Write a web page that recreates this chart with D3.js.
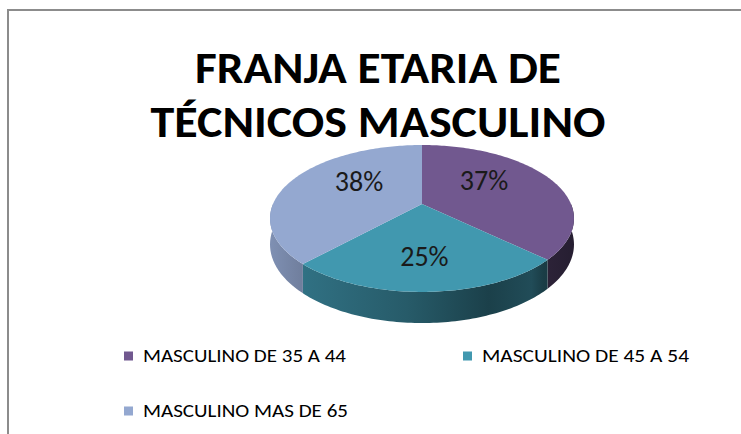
<!DOCTYPE html>
<html>
<head>
<meta charset="utf-8">
<script src="https://cdn.jsdelivr.net/npm/d3@7"></script>
<style>
	body { margin: 0; background: #fff; }
	svg { display: block; }
	text { font-family: Carlito, Lato, "Liberation Sans", sans-serif; }
</style>
</head>
<body>
<svg id="canvas" width="741" height="434"></svg>
<script>
// chart data
const categories = ["MASCULINO DE 35 A 44", "MASCULINO DE 45 A 54", "MASCULINO MAS DE 65"];
const values = [37, 25, 38];
const labels = ["37%", "25%", "38%"];
const colors = ["#71588f", "#4198af", "#94a8d0"];
const titleLines = ["FRANJA ETARIA DE", "TÉCNICOS MASCULINO"];

const svg = d3.select("#canvas");

// frame
svg.append("rect")
	.attr("x", 8).attr("y", 10)
	.attr("width", 800).attr("height", 500)
	.attr("fill", "#fff")
	.attr("stroke", "#8c8c8c")
	.attr("stroke-width", 2);

// title
svg.append("g")
	.selectAll("text")
	.data(titleLines)
	.join("text")
	.attr("x", 378)
	.attr("y", (d, i) => 83 + i * 54)
	.attr("text-anchor", "middle")
	.attr("font-size", 45)
	.attr("font-weight", "bold")
	.attr("fill", "#000")
	.attr("textLength", (d, i) => [366, 455][i])
	.attr("lengthAdjust", "spacingAndGlyphs")
	.text(d => d);

// perspective projection of the pie disc
const cx = 422, cy = 204, R = 149, RY = 70.6, P = 0.197, H = 25;
function proj(a, f, dz) {
	const u = Math.sin(a), v = -Math.cos(a);
	const s = 1 / (1 - P * v * f);
	return [cx + R * u * f * s, cy + RY * v * f * s + dz * s];
}

const color = d3.scaleOrdinal().domain(categories).range(colors);
const pie = d3.pie().sort(null).value(d => d.value);
const arcs = pie(categories.map((c, i) => ({ name: c, value: values[i], label: labels[i] })));
const line = d3.line();

function samples(a0, a1) {
	const n = Math.max(2, Math.ceil((a1 - a0) / 0.02));
	return d3.range(n + 1).map(k => a0 + (a1 - a0) * k / n);
}

// side shading gradients
const defs = svg.append("defs");
const shadeStops = [[0, 0.86], [0.12, 0.74], [0.45, 0.6], [0.72, 0.42], [0.86, 0.5], [0.9, 0.4], [1, 0.34]];
arcs.forEach((d, i) => {
	const base = d3.rgb(color(d.data.name));
	const g = defs.append("linearGradient")
		.attr("id", `side${i}`)
		.attr("gradientUnits", "userSpaceOnUse")
		.attr("x1", cx - R * 1.02).attr("x2", cx + R * 1.02)
		.attr("y1", 0).attr("y2", 0);
	shadeStops.forEach(([o, k]) => {
		g.append("stop")
			.attr("offset", o)
			.attr("stop-color", d3.rgb(base.r * k, base.g * k, base.b * k).formatHex());
	});
});

// visible front walls
const sides = svg.append("g");
arcs.forEach((d, i) => {
	const a0 = Math.max(d.startAngle, Math.PI / 2);
	const a1 = Math.min(d.endAngle, Math.PI * 3 / 2);
	if (a1 <= a0) return;
	const as = samples(a0, a1);
	const pts = as.map(a => proj(a, 1, 0)).concat(as.slice().reverse().map(a => proj(a, 1, H)));
	sides.append("path")
		.attr("d", line(pts) + "Z")
		.attr("fill", `url(#side${i})`);
});

// top faces
svg.append("g")
	.selectAll("path")
	.data(arcs)
	.join("path")
	.attr("d", d => line([[cx, cy]].concat(samples(d.startAngle, d.endAngle).map(a => proj(a, 1, 0)))) + "Z")
	.attr("fill", d => color(d.data.name));

// percentage labels
svg.append("g")
	.selectAll("text")
	.data(arcs)
	.join("text")
	.attr("x", d => proj((d.startAngle + d.endAngle) / 2, 0.47, 0)[0])
	.attr("y", d => proj((d.startAngle + d.endAngle) / 2, 0.7, 0)[1] - 4.8)
	.attr("text-anchor", "middle")
	.attr("dominant-baseline", "central")
	.attr("font-size", 28)
	.attr("fill", "#1a1a1a")
	.text(d => d.data.label);

// legend
const legendPos = [[124, 356], [463, 356], [124, 411]];
const legendW = [203, 207, 205];
const legend = svg.append("g")
	.selectAll("g")
	.data(categories)
	.join("g")
	.attr("transform", (d, i) => `translate(${legendPos[i][0]},${legendPos[i][1]})`);
legend.append("rect")
	.attr("x", 0).attr("y", -4.5)
	.attr("width", 9).attr("height", 9)
	.attr("fill", d => color(d));
legend.append("text")
	.attr("x", 19)
	.attr("y", 0)
	.attr("dominant-baseline", "central")
	.attr("font-size", 18)
	.attr("fill", "#000")
	.attr("textLength", (d, i) => legendW[i])
	.attr("lengthAdjust", "spacingAndGlyphs")
	.text(d => d);
</script>
</body>
</html>
